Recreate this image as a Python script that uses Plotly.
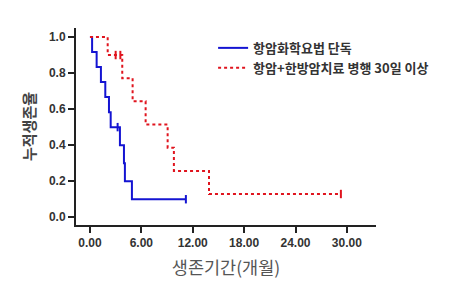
import plotly.graph_objects as go

# Kaplan-Meier data
blue_name = "항암화학요법 단독"
blue_time = [0, 0.25, 0.78, 1.28, 1.79, 2.22, 2.42, 3.5, 3.97, 4.08, 4.9, 11.2]
blue_surv = [1.0, 0.917, 0.833, 0.75, 0.667, 0.583, 0.5, 0.4, 0.3, 0.2, 0.1, 0.1]
blue_cens_t = [3.23, 11.2]
blue_cens_s = [0.5, 0.1]

red_name = "항암+한방암치료 병행 30일 이상"
red_time = [0, 2.07, 3.77, 4.98, 6.5, 9.07, 9.8, 13.9, 29.3]
red_surv = [1.0, 0.9, 0.771, 0.643, 0.514, 0.386, 0.257, 0.129, 0.129]
red_cens_t = [3.0, 3.55, 29.3]
red_cens_s = [0.9, 0.9, 0.129]

x_ticks = [0, 6, 12, 18, 24, 30]
x_tick_labels = ["0.00", "6.00", "12.00", "18.00", "24.00", "30.00"]
y_ticks = [0, 0.2, 0.4, 0.6, 0.8, 1.0]
y_tick_labels = ["0.0", "0.2", "0.4", "0.6", "0.8", "1.0"]

BLUE = "#1414d2"
RED = "#e0141e"
KR = "Noto Sans CJK KR"

fig = go.Figure()
fig.add_trace(go.Scatter(x=blue_time, y=blue_surv, mode="lines", line_shape="hv",
                         line=dict(color=BLUE, width=2), name=blue_name))
fig.add_trace(go.Scatter(x=red_time, y=red_surv, mode="lines", line_shape="hv",
                         line=dict(color=RED, width=2, dash="3px,3px"), name=red_name))
fig.add_trace(go.Scatter(x=blue_cens_t, y=blue_cens_s, mode="markers", showlegend=False,
                         marker=dict(symbol="line-ns", size=6, line=dict(color=BLUE, width=2))))
fig.add_trace(go.Scatter(x=red_cens_t, y=red_cens_s, mode="markers", showlegend=False,
                         marker=dict(symbol="line-ns", size=6, line=dict(color=RED, width=2))))

tickfont = dict(family="Liberation Sans, Arial", size=12, color="#333333", weight="bold")
fig.update_layout(
    width=468, height=290,
    margin=dict(l=76, r=92, t=28, b=65),
    paper_bgcolor="white", plot_bgcolor="white",
    showlegend=True,
    legend=dict(x=0.457, y=0.975, xanchor="left", yanchor="top", bgcolor="rgba(0,0,0,0)",
                font=dict(family=KR, size=13, color="#333333", weight="bold"), itemwidth=30,
                tracegroupgap=0),
    xaxis=dict(range=[-1.63, 33.4], tickvals=x_ticks, ticktext=x_tick_labels,
               showgrid=False, zeroline=False, showline=True, linecolor="#222222", linewidth=2,
               ticks="outside", ticklen=6, tickwidth=2, tickcolor="#222222",
               tickfont=tickfont,
               title=dict(text="생존기간(개월)", font=dict(family=KR, size=17.5, color="#555555"),
                          standoff=12)),
    yaxis=dict(range=[-0.043, 1.05], tickvals=y_ticks, ticktext=y_tick_labels,
               showgrid=False, zeroline=False, showline=True, linecolor="#222222", linewidth=2,
               ticks="outside", ticklen=6, tickwidth=2, tickcolor="#222222",
               tickfont=tickfont,
               title=dict(text="누적생존율", font=dict(family=KR, size=15, color="#444444", weight="bold"),
                          standoff=10)),
)

fig.write_html("out.html")
